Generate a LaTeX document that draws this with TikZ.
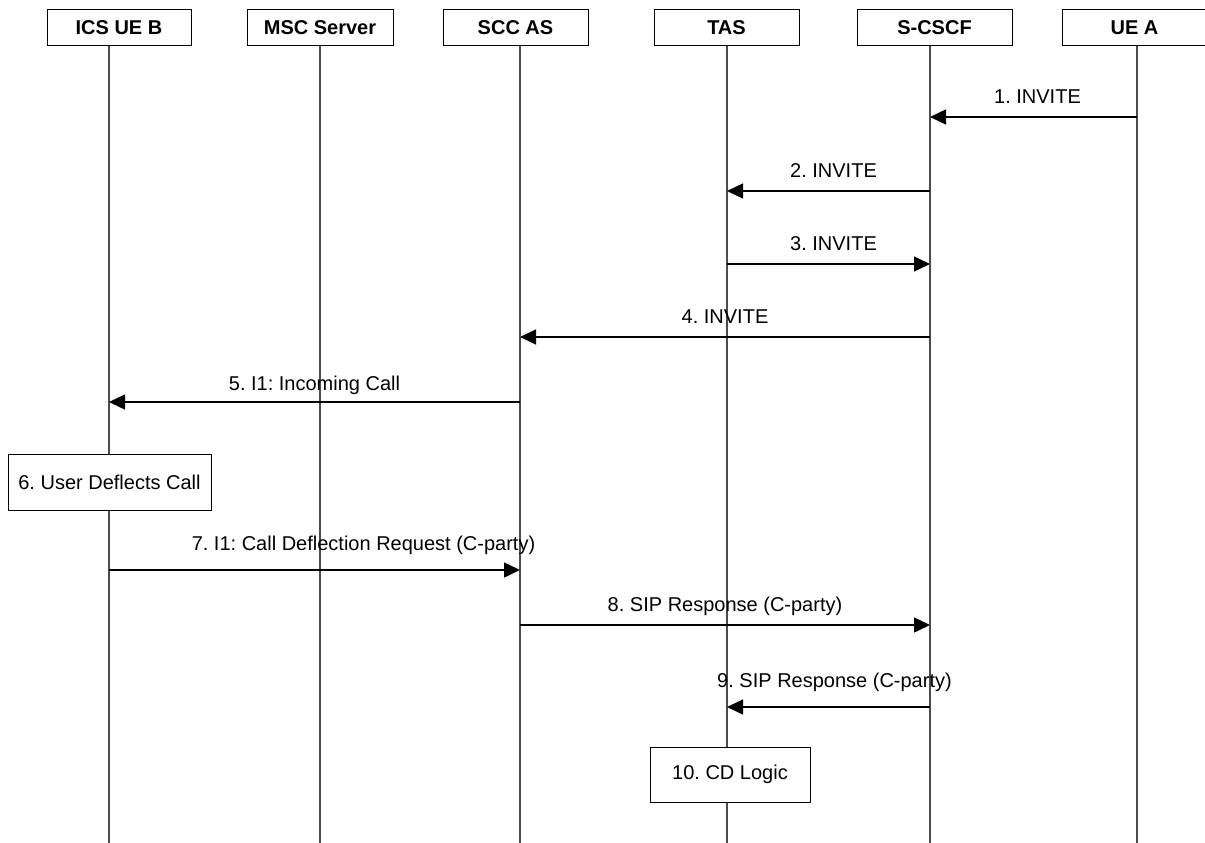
\documentclass[tikz,border=0pt]{standalone}
\usepackage{fontspec}
\setmainfont{Liberation Sans}
\usetikzlibrary{positioning, arrows.meta, calc}
\frenchspacing

\begin{document}
\begin{tikzpicture}[
    x=1pt, y=-1pt,
    font=\fontsize{20}{24}\selectfont,
    ent/.style={draw, line width=1pt, minimum height=36pt, inner sep=0pt,
               font=\fontsize{20}{24}\selectfont\bfseries},
    life/.style={draw=black!70, line width=1.1pt},
    msg/.style={-{Triangle[length=16pt, width=15pt]}, line width=1.5pt},
    act/.style={draw, fill=white, line width=1pt, inner sep=0pt, align=center},
    lbl/.style={anchor=base, inner sep=0pt, yshift=14pt},
  ]
  \useasboundingbox (0,0) rectangle (1205,843);

  % entities
  \node[ent, minimum width=144pt] (icsB) at (119,28) {ICS UE B};
  \node[ent, minimum width=146pt] (msc) at (320,28) {MSC Server};
  \node[ent, minimum width=145pt] (scc) at (515.5,28) {SCC AS};
  \node[ent, minimum width=145pt] (tas) at (726.5,28) {TAS};
  \node[ent, minimum width=155pt] (cscf) at (934.5,28) {S-CSCF};
  \node[ent, minimum width=145pt] (ueA) at (1134.5,28) {UE A};

  % lifelines
  \coordinate (icsL) at (109,46);
  \coordinate (mscL) at (320,46);
  \coordinate (sccL) at (520,46);
  \coordinate (tasL) at (727,46);
  \coordinate (cscfL) at (930,46);
  \coordinate (ueAL) at (1137,46);
  \coordinate (bot) at (0,843);
  \foreach \l in {icsL, mscL, sccL, tasL, cscfL, ueAL}
    \draw[life] (\l) -- (\l |- bot);

  % local actions
  \node[act, minimum width=203pt, minimum height=56pt] (deflect) at (109.5,482) {6. User Deflects Call};
  \node[act, minimum width=160pt, minimum height=55pt] (cdlogic) at (730,774.5) {10. CD Logic};

  % message rows
  \coordinate (r1) at (0,117);
  \coordinate (r2) at (0,191);
  \coordinate (r3) at (0,264);
  \coordinate (r4) at (0,337);
  \coordinate (r5) at (0,402);
  \coordinate (r7) at (0,570);
  \coordinate (r8) at (0,625);
  \coordinate (r9) at (0,707);

  \draw[msg] (ueAL |- r1) -- node[lbl, xshift=4pt] {1. INVITE} (cscfL |- r1);
  \draw[msg] (cscfL |- r2) -- node[lbl, xshift=5pt] {2. INVITE} (tasL |- r2);
  \draw[msg] (tasL |- r3) -- node[lbl, xshift=5pt] {3. INVITE} (cscfL |- r3);
  \draw[msg] (cscfL |- r4) -- node[lbl] {4. INVITE} (sccL |- r4);
  \draw[msg] (sccL |- r5) -- node[lbl, yshift=-2pt] {5. I1: Incoming Call} (icsL |- r5);
  \draw[msg] (icsL |- r7) -- node[lbl, xshift=49pt, yshift=6pt] {7. I1: Call Deflection Request (C-party)} (sccL |- r7);
  \draw[msg] (sccL |- r8) -- node[lbl] {8. SIP Response (C-party)} (cscfL |- r8);
  \draw[msg] (cscfL |- r9) -- node[lbl, xshift=6pt, yshift=6pt] {9. SIP Response (C-party)} (tasL |- r9);
\end{tikzpicture}
\end{document}
